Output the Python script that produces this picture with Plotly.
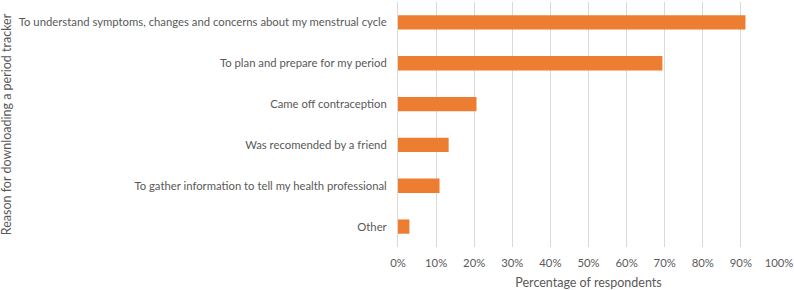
import plotly.graph_objects as go

categories = [
    "To understand symptoms, changes and concerns about my menstrual cycle",
    "To plan and prepare for my period",
    "Came off contraception",
    "Was recomended by a friend",
    "To gather information to tell my health professional",
    "Other",
]
values = [0.912, 0.694, 0.206, 0.133, 0.109, 0.030]
x_ticks = [i / 10 for i in range(11)]
x_tick_labels = [f"{i*10}%" for i in range(11)]

FONT = "Lato, Carlito, Calibri, sans-serif"
TXT = "#595959"
GRID = "#d9d9d9"

fig = go.Figure(go.Bar(
    x=values, y=categories, orientation="h",
    marker=dict(color="#ED7D31", line=dict(width=0)),
))

fig.update_layout(
    width=794, height=290,
    margin=dict(l=398, r=15, t=2, b=43),
    paper_bgcolor="white", plot_bgcolor="white",
    bargap=0.65, showlegend=False,
    font=dict(family=FONT, size=11.3, color=TXT),
)
fig.update_xaxes(
    range=[0, 1], tickvals=x_ticks, ticktext=x_tick_labels,
    showgrid=True, gridcolor=GRID, gridwidth=1, zeroline=False,
    ticks="", ticklabelstandoff=8, tickfont=dict(size=11.3, color=TXT), automargin=False,
    title=dict(text="Percentage of respondents", font=dict(size=12.5, color=TXT), standoff=9),
    fixedrange=True,
)
fig.update_yaxes(
    autorange="reversed", showgrid=False, zeroline=False,
    showline=True, linecolor=GRID, linewidth=1, automargin=False,
    ticks="", ticklabelstandoff=8, tickfont=dict(size=11.3, color=TXT),
    fixedrange=True,
)
fig.add_annotation(
    text="Reason for downloading a period tracker",
    xref="paper", yref="paper", x=-1.027, y=0.5,
    xanchor="center", yanchor="middle", textangle=-90,
    showarrow=False, font=dict(size=12.5, color=TXT, family=FONT),
)
fig.write_html(
    "out.html",
    config={"displayModeBar": False},
    post_script="document.body.style.margin='0';document.body.style.padding='0';",
)
